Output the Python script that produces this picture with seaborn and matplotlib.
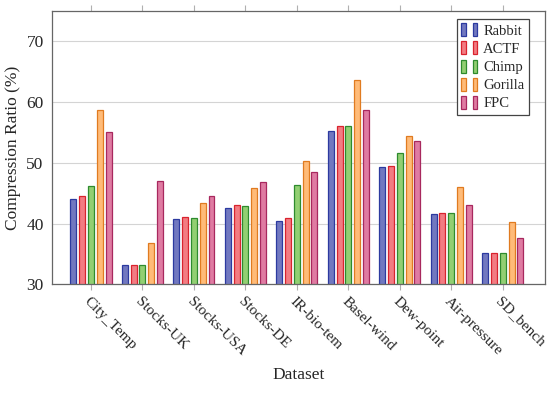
import pandas as pd
import matplotlib.pyplot as plt
import seaborn as sns
from matplotlib.patches import Patch
from matplotlib.legend_handler import HandlerTuple

datasets = ['City_Temp', 'Stocks-UK', 'Stocks-USA', 'Stocks-DE', 'IR-bio-tem',
            'Basel-wind', 'Dew-point', 'Air-pressure', 'SD_bench']
methods = ['Rabbit', 'ACTF', 'Chimp', 'Gorilla', 'FPC']

rabbit = [44.0, 33.2, 40.7, 42.6, 40.5, 55.2, 49.3, 41.6, 35.1]
actf = [44.6, 33.2, 41.1, 43.0, 41.0, 56.1, 49.5, 41.7, 35.2]
chimp = [46.2, 33.2, 40.9, 42.9, 46.4, 56.1, 51.6, 41.8, 35.1]
gorilla = [58.7, 36.9, 43.4, 45.9, 50.3, 63.6, 54.4, 46.0, 40.3]
fpc = [55.1, 47.1, 44.6, 46.8, 48.5, 58.7, 53.6, 43.0, 37.7]

fills = ['#7178c0', '#f27c82', '#92cf72', '#ffbb78', '#df7ba2']
edges = ['#2c3aa0', '#d9232e', '#2e8b2e', '#e07b20', '#a8285e']

rows = []
for m, vals in zip(methods, [rabbit, actf, chimp, gorilla, fpc]):
    for d, v in zip(datasets, vals):
        rows.append({'Dataset': d, 'Method': m, 'Ratio': v})
df = pd.DataFrame(rows)

sns.set_style('white')
plt.rcParams['font.family'] = ['Liberation Serif', 'DejaVu Serif']

fig = plt.figure(figsize=(5.5, 3.96), dpi=100)
ax = fig.add_axes([0.0945, 0.2816, 0.896, 0.6907])

sns.barplot(data=df, x='Dataset', y='Ratio', hue='Method', hue_order=methods,
            order=datasets, palette=fills, width=0.855,
            linewidth=0.9, ax=ax, legend=False)

# colour each bar edge per method and leave a small gap between bars
for i, cont in enumerate(ax.containers):
    for bar in cont:
        bar.set_edgecolor(edges[i])
        bar.set_facecolor(fills[i])
        w = bar.get_width()
        new_w = w * 0.68
        bar.set_x(bar.get_x() + (w - new_w) / 2)
        bar.set_width(new_w)

ax.set_ylim(30, 75)
ax.set_xlim(-0.757, 8.816)
ax.set_yticks([30, 40, 50, 60, 70])
ax.yaxis.grid(True, color='#d4d4d4', linewidth=0.8)
ax.set_axisbelow(True)
for s in ax.spines.values():
    s.set_color('#666666')
    s.set_linewidth(0.9)

ax.tick_params(axis='x', which='both', top=True, bottom=True, direction='out',
               length=4, color='#b0b0b0', labelsize=11)
ax.tick_params(axis='y', length=0, labelsize=12.5, pad=6)
ax.set_xticks(range(len(datasets)))
ax.set_xticklabels(datasets, rotation=-45, ha='left', va='top', rotation_mode='anchor')

ax.set_xlabel('Dataset', fontsize=12.5, labelpad=6)
ax.set_ylabel('Compression Ratio (%)', fontsize=12.5)

handles = [(Patch(facecolor=f, edgecolor=e, linewidth=0.9),
            Patch(facecolor=f, edgecolor=e, linewidth=0.9))
           for f, e in zip(fills, edges)]
leg = ax.legend(handles, methods, handler_map={tuple: HandlerTuple(ndivide=None, pad=0.5)},
                loc='upper right', bbox_to_anchor=(0.9675, 0.971), fontsize=10.5,
                handlelength=1.1, handleheight=1.0, handletextpad=0.4,
                labelspacing=0.25, borderpad=0.3, borderaxespad=0,
                fancybox=False, framealpha=1)
leg.get_frame().set_edgecolor('#444444')
leg.get_frame().set_linewidth(0.9)

fig.savefig('out.png', dpi=100)
